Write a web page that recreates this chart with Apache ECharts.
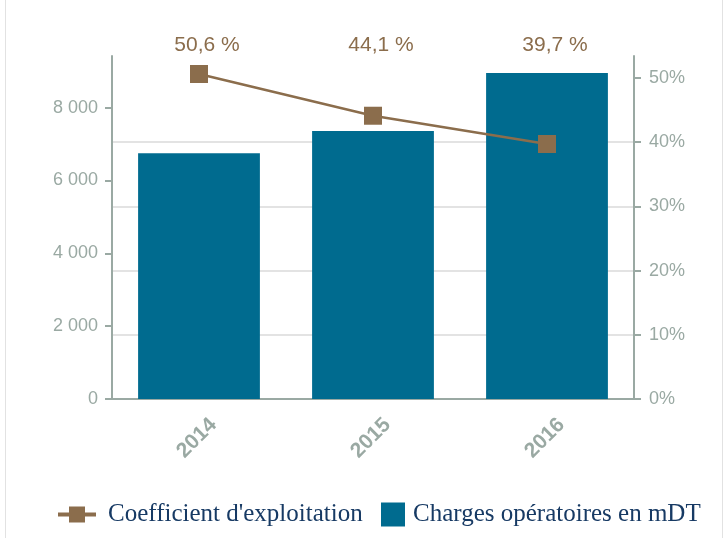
<!DOCTYPE html>
<html>
<head>
<meta charset="utf-8">
<script src="https://cdn.jsdelivr.net/npm/echarts@6/dist/echarts.min.js"></script>
<style>
  html, body { margin: 0; padding: 0; background: #fff; }
  .frame {
    position: absolute; left: 5px; top: 0; width: 716px; height: 538px;
    border-left: 1px solid #e2e2e2; border-right: 1px solid #e2e2e2;
  }
  #chart { position: absolute; left: 0; top: 0; width: 725px; height: 538px; }
</style>
</head>
<body>
<div class="frame"></div>
<div id="chart"></div>
<script>
// données
var annees = ["2014", "2015", "2016"];
var charges = [6750, 7360, 8950];          // Charges opératoires en mDT
var coefficient = [50.6, 44.1, 39.7];      // Coefficient d'exploitation (%)
var ticksGauche = [0, 2000, 4000, 6000, 8000];
var ticksDroite = [0, 10, 20, 30, 40, 50];

var gris = "#9aa9a3";
var brun = "#8b6d4c";
var bleu = "#006b8f";

var chart = echarts.init(document.getElementById("chart"));

chart.setOption({
  animation: false,
  grid: { left: 112, right: 91, top: 56, bottom: 139 },
  legend: [
    {
      data: ["Coefficient d'exploitation"],
      left: 51, top: 497,
      itemWidth: 38, itemHeight: 20,
      lineStyle: { width: 4 },
      textStyle: { fontFamily: "Liberation Serif", fontSize: 25, color: "#173a64", padding: [0, 0, 0, 7] }
    },
    {
      data: [{ name: "Charges opératoires en mDT", icon: "rect" }],
      left: 376, top: 497,
      itemWidth: 24, itemHeight: 24,
      textStyle: { fontFamily: "Liberation Serif", fontSize: 25, color: "#173a64", padding: [0, 0, 0, 3] }
    }
  ],
  xAxis: [
    {
      type: "category",
      data: annees,
      position: "bottom",
      axisLine: { lineStyle: { color: gris, width: 2 } },
      axisTick: { show: false },
      axisLabel: {
        rotate: 45, align: "center", verticalAlign: "middle", margin: 37,
        padding: [0, 6, 0, 0],
        color: gris, fontFamily: "Liberation Sans", fontSize: 21, fontWeight: "bold"
      }
    },
    {
      type: "category",
      data: annees,
      position: "top",
      axisLine: { show: false },
      axisTick: { show: false },
      axisLabel: {
        margin: 0,
        color: brun, fontFamily: "Liberation Sans", fontSize: 21,
        padding: [0, 0, 0, 16],
        formatter: function (v, i) { return coefficient[i].toFixed(1).replace(".", ",") + " %"; }
      }
    }
  ],
  yAxis: [
    {
      type: "value",
      min: 0, max: 9420, interval: 2000,
      position: "left",
      axisLine: { show: true, lineStyle: { color: gris, width: 2 } },
      axisTick: { show: true, length: 7, customValues: ticksGauche, lineStyle: { color: gris, width: 2 } },
      axisLabel: {
        customValues: ticksGauche, margin: 14,
        color: gris, fontFamily: "Liberation Sans", fontSize: 18,
        formatter: function (v) { return String(v).replace(/\B(?=(\d{3})+(?!\d))/g, " "); }
      },
      splitLine: { show: false }
    },
    {
      type: "value",
      min: 0, max: 53.4, interval: 10,
      position: "right",
      axisLine: { show: true, lineStyle: { color: gris, width: 2 } },
      axisTick: { show: true, length: 7, customValues: ticksDroite, lineStyle: { color: gris, width: 2 } },
      axisLabel: {
        customValues: ticksDroite, margin: 15,
        color: gris, fontFamily: "Liberation Sans", fontSize: 18,
        formatter: "{value}%"
      },
      splitLine: { show: true, showMaxLine: false, lineStyle: { color: "#dadada", width: 1.5 } }
    }
  ],
  series: [
    {
      name: "Charges opératoires en mDT",
      type: "bar",
      data: charges,
      barWidth: "70%",
      yAxisIndex: 0,
      itemStyle: { color: bleu },
      z: 3
    },
    {
      name: "Coefficient d'exploitation",
      type: "line",
      data: coefficient,
      yAxisIndex: 1,
      symbol: "rect",
      symbolSize: 18,
      lineStyle: { color: brun, width: 2.5 },
      itemStyle: { color: brun },
      z: 5
    }
  ]
});
</script>
</body>
</html>
